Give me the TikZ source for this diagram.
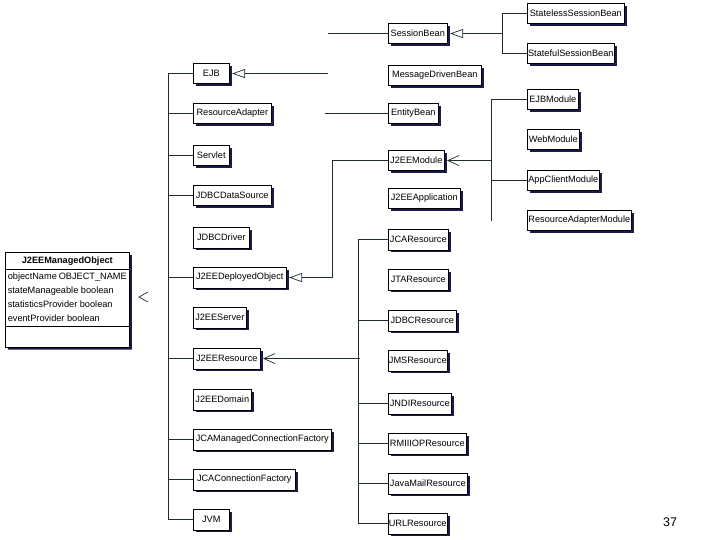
\documentclass[tikz,border=0pt]{standalone}
\usepackage{fontspec}
\setmainfont{Liberation Sans}
\usetikzlibrary{arrows.meta,shadows,shapes.multipart}
\definecolor{boxshade}{RGB}{25,25,75}
\definecolor{linecol}{RGB}{30,45,45}

\begin{document}
\begin{tikzpicture}[x=1pt,y=-1pt,font=\fontsize{9.2}{11}\selectfont,
        class node/.style={draw,fill=white,line width=0.6pt,anchor=north west,minimum height=20.5pt,inner xsep=0.5pt,inner ysep=0pt,drop shadow={shadow xshift=2.5pt,shadow yshift=-2.5pt,fill=boxshade,opacity=1}},
        object node/.style={class node,rectangle split,rectangle split parts=3,inner xsep=2.5pt,inner ysep=1pt},
        link/.style={draw=linecol,line width=0.7pt},
        tri edge/.style={link,{Triangle[open,length=13pt,width=9pt,line width=0.7pt]}-,shorten <=2.5pt},
        barb edge/.style={link,{Straight Barb[length=11pt,width=10pt,line width=0.7pt]}-,shorten <=2.5pt}]
            \useasboundingbox (0,0) rectangle (720,540);

            % managed object
            \node[object node] (mobj) at (5,252) {\makebox[119pt]{\bfseries J2EEManagedObject}\rule[-4pt]{0pt}{14pt}
                \nodepart{two}\fontsize{9.2}{13.75}\selectfont\begin{tabular}{@{}p{119pt}@{}}objectName OBJECT\_NAME\\ stateManageable boolean\\ statisticsProvider boolean\\ eventProvider boolean\end{tabular}
                \nodepart{three}\rule{0pt}{18pt}};
            \draw[link] (148,292) -- (139,297) -- (148,302);

            % left column
            \node[class node, minimum width=36pt] (ejb) at (193,63) {EJB};
            \node[class node, minimum width=78pt] (radapter) at (193,103) {ResourceAdapter};
            \node[class node, minimum width=36pt] (servlet) at (193,145) {Servlet};
            \node[class node, minimum width=78pt] (jdbcds) at (193,185) {JDBCDataSource};
            \node[class node, minimum width=56pt] (jdbcdrv) at (193,227) {JDBCDriver};
            \node[class node, minimum width=93pt] (dobj) at (193,267) {J2EEDeployedObject};
            \node[class node, minimum width=53pt] (server) at (193,307) {J2EEServer};
            \node[class node, minimum width=67pt] (res) at (193,348) {J2EEResource};
            \node[class node, minimum width=58pt] (domain) at (193,389) {J2EEDomain};
            \node[class node, minimum width=138pt] (jcamcf) at (193,429) {JCAManagedConnectionFactory};
            \node[class node, minimum width=102pt] (jcacf) at (193,469) {JCAConnectionFactory};
            \node[class node, minimum width=36pt] (jvm) at (193,509) {JVM};

            % middle column
            \node[class node, minimum width=59pt] (sbean) at (388,23) {SessionBean};
            \node[class node, minimum width=93pt] (mdbean) at (388,65) {MessageDrivenBean};
            \node[class node, minimum width=50pt] (ebean) at (388,103) {EntityBean};
            \node[class node, minimum width=56pt] (module) at (388,150) {J2EEModule};
            \node[class node, minimum width=72pt] (app) at (388,188) {J2EEApplication};
            \node[class node, minimum width=60pt] (jcares) at (388,229) {JCAResource};
            \node[class node, minimum width=60pt] (jtares) at (388,269) {JTAResource};
            \node[class node, minimum width=68pt] (jdbcres) at (388,310) {JDBCResource};
            \node[class node, minimum width=59pt] (jmsres) at (388,350) {JMSResource};
            \node[class node, minimum width=63pt] (jndires) at (388,393) {JNDIResource};
            \node[class node, minimum width=78pt] (rmires) at (388,433) {RMIIIOPResource};
            \node[class node, minimum width=79pt] (mailres) at (388,473) {JavaMailResource};
            \node[class node, minimum width=58pt] (urlres) at (388,513) {URLResource};

            % right column
            \node[class node, minimum width=97pt] (stateless) at (527,3) {StatelessSessionBean};
            \node[class node, minimum width=87pt] (stateful) at (527,43) {StatefulSessionBean};
            \node[class node, minimum width=51pt] (ejbmod) at (527,89) {EJBModule};
            \node[class node, minimum width=52pt] (webmod) at (527,129) {WebModule};
            \node[class node, minimum width=72pt] (appmod) at (527,170) {AppClientModule};
            \node[class node, minimum width=104pt] (ram) at (527,210) {ResourceAdapterModule};

            \node[font=\fontsize{12.5}{14}\selectfont] (page) at (670,522) {37};

            % connectors
            \draw[link] (ejb.west) -- ++(-25,0) |- (jvm.west);
            \foreach \nd in {radapter,servlet,jdbcds,dobj,res,jcamcf,jcacf}
                \draw[link] (\nd.west) -- ++(-25,0);

            \coordinate (ejbend) at (328,75);
            \draw[tri edge] (ejb.east) -- (ejb.east -| ejbend);
            \draw[link] (sbean.west) -- ++(-60,0);
            \draw[tri edge] (sbean.east) -- ++(55,0) coordinate (sbj) |- (stateless.west);
            \draw[link] (sbj) |- (stateful.west);
            \draw[link] (ebean.west) -- ++(-63,0);

            \draw[tri edge] (dobj.east) -- ++(46,0) |- (module.west);
            \draw[barb edge] (module.east) -- ++(47,0) coordinate (mj) |- (ejbmod.west);
            \draw[link] (mj) |- (appmod.west);
            \draw[link] (mj) -- (mj |- ram.west);

            \draw[barb edge] (res.east) -- ++(99,0);
            \draw[link] (jcares.west) -- ++(-30,0) |- (urlres.west);
            \foreach \nd in {jdbcres,jndires,rmires,mailres}
                \draw[link] (\nd.west) -- ++(-30,0);
        \end{tikzpicture}
\end{document}
